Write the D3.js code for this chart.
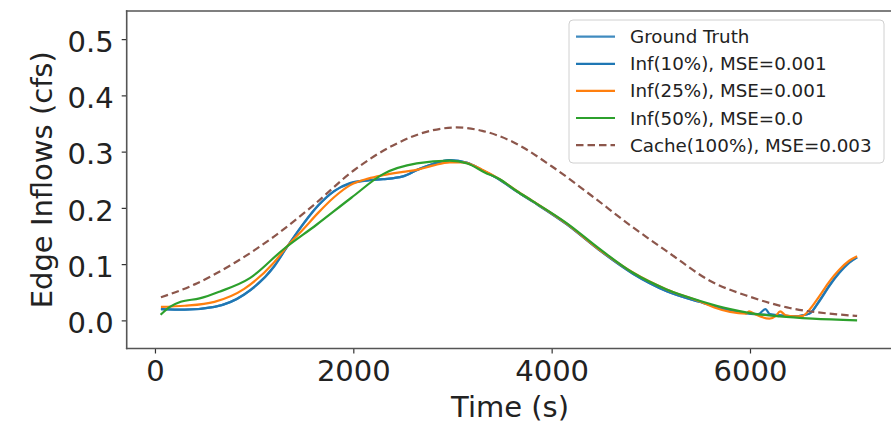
<!DOCTYPE html>
<html>
<head>
<meta charset="utf-8">
<script src="https://cdn.jsdelivr.net/npm/d3@7"></script>
<style>
  body { margin: 0; background: #fff; overflow: hidden; }
  text { font-family: "DejaVu Sans", sans-serif; fill: #222; }
</style>
</head>
<body>
<script>
// values: [time (s), inflow (cfs)]
var groundTruth = [[60,.020],[300,.019],[600,.024],[900,.046],[1200,.095],[1330,.130],[1500,.172],[1650,.205],[1800,.229],[1965,.243],[2150,.249],[2300,.251],[2500,.256],[2650,.268],[2800,.278],[2972,.285],[3150,.280],[3300,.267],[3476,.250],[3650,.229],[3810,.211],[4150,.171],[4480,.125],[4820,.083],[5160,.052],[5490,.033],[5700,.022],[5960,.013],[6080,.011],[6200,.010],[6300,.009],[6450,.007],[6530,.009],[6600,.012],[6700,.034],[6800,.061],[6900,.084],[7000,.102],[7080,.112]];

var inf10 = [[60,.020],[300,.019],[600,.024],[900,.046],[1200,.096],[1330,.130],[1500,.173],[1650,.205],[1800,.229],[1965,.244],[2150,.249],[2300,.251],[2500,.256],[2650,.268],[2800,.278],[2972,.285],[3150,.280],[3300,.267],[3476,.250],[3650,.229],[3810,.211],[4150,.171],[4480,.125],[4820,.083],[5160,.052],[5490,.033],[5700,.022],[5960,.013],[6080,.011],[6156,.020],[6200,.011],[6300,.009],[6450,.007],[6530,.009],[6600,.012],[6700,.035],[6800,.062],[6900,.085],[7000,.103],[7080,.112]];

var inf25 = [[60,.024],[300,.026],[600,.033],[900,.056],[1200,.103],[1330,.131],[1500,.163],[1650,.192],[1800,.218],[1965,.240],[2150,.252],[2300,.258],[2500,.264],[2650,.268],[2800,.275],[2972,.281],[3100,.281],[3300,.268],[3476,.251],[3650,.230],[3810,.212],[4150,.172],[4480,.126],[4820,.085],[5160,.055],[5490,.034],[5640,.023],[5800,.015],[5962,.012],[5990,.016],[6050,.011],[6196,.003],[6260,.008],[6304,.016],[6360,.009],[6450,.007],[6530,.008],[6600,.019],[6700,.043],[6800,.069],[6900,.090],[7000,.106],[7080,.114]];

var inf50 = [[57,.010],[150,.024],[260,.033],[450,.039],[650,.051],[957,.075],[1293,.126],[1629,.170],[1980,.218],[2300,.260],[2640,.279],[2972,.284],[3150,.279],[3325,.263],[3476,.251],[3647,.230],[3809,.212],[4151,.173],[4484,.127],[4816,.085],[5159,.055],[5490,.035],[5800,.020],[6000,.013],[6300,.007],[6630,.003],[7080,.000]];

var cache100 = [[60,.041],[400,.064],[800,.102],[1200,.149],[1600,.205],[2000,.266],[2400,.311],[2800,.338],[3040,.343],[3300,.337],[3600,.318],[4000,.274],[4400,.222],[4800,.168],[5200,.118],[5600,.070],[6000,.042],[6400,.022],[6800,.012],[7080,.008]];

var labels = ["Ground Truth", "Inf(10%), MSE=0.001", "Inf(25%), MSE=0.001", "Inf(50%), MSE=0.0", "Cache(100%), MSE=0.003"];
var xTicks = [0, 2000, 4000, 6000];
var yTicks = [0.0, 0.1, 0.2, 0.3, 0.4, 0.5];

var width = 891,
    height = 423;

var plotLeft = 126.7, plotRight = 893.4, plotTop = 11, plotBottom = 348.5;

var svg = d3.select("body").append("svg")
    .attr("width", width)
    .attr("height", height)
    .style("display", "block");

var x = d3.scaleLinear()
    .domain([-285, 7446])
    .range([plotLeft, plotRight]);

var y = d3.scaleLinear()
    .domain([-0.05, 0.55])
    .range([plotBottom, plotTop]);

var line = d3.line()
    .x(function(d) { return x(d[0]); })
    .y(function(d) { return y(d[1]); })
    .curve(d3.curveMonotoneX);

var series = [
    {data: groundTruth, color: "#1f77b4", opacity: 0.85, dash: null},
    {data: inf10, color: "#1f77b4", opacity: 1, dash: null},
    {data: inf25, color: "#ff7f0e", opacity: 1, dash: null},
    {data: inf50, color: "#2ca02c", opacity: 1, dash: null},
    {data: cache100, color: "#8c564b", opacity: 1, dash: "7.5,4"}
];

svg.selectAll(".series")
    .data(series)
    .enter().append("path")
    .attr("class", "series")
    .attr("d", function(d) { return line(d.data); })
    .attr("fill", "none")
    .attr("stroke", function(d) { return d.color; })
    .attr("stroke-opacity", function(d) { return d.opacity; })
    .attr("stroke-width", 2.2)
    .attr("stroke-dasharray", function(d) { return d.dash; });

// axes
var xAxis = d3.axisBottom(x)
    .tickValues(xTicks)
    .tickSize(5)
    .tickPadding(7)
    .tickFormat(d3.format("d"));

var yAxis = d3.axisLeft(y)
    .tickValues(yTicks)
    .tickSize(5)
    .tickPadding(8)
    .tickFormat(d3.format(".1f"));

var gx = svg.append("g")
    .attr("transform", "translate(0," + plotBottom + ")")
    .call(xAxis);
var gy = svg.append("g")
    .attr("transform", "translate(" + plotLeft + ",0)")
    .call(yAxis);

[gx, gy].forEach(function(g) {
    g.select(".domain").remove();
    g.selectAll(".tick line").attr("stroke", "#333").attr("stroke-width", 1.2);
    g.selectAll(".tick text")
        .style("font-size", "29px")
        .attr("fill", "#222");
});
gy.selectAll(".tick text").attr("dy", "0.42em");

// spines: left, top, bottom (the right one falls outside the picture)
var spines = [
    [plotLeft, plotTop, plotLeft, plotBottom],
    [plotLeft, plotTop, width, plotTop],
    [plotLeft, plotBottom, width, plotBottom]
];
svg.selectAll(".spine")
    .data(spines)
    .enter().append("line")
    .attr("class", "spine")
    .attr("x1", function(d) { return d[0]; })
    .attr("y1", function(d) { return d[1]; })
    .attr("x2", function(d) { return d[2]; })
    .attr("y2", function(d) { return d[3]; })
    .attr("stroke", "#555")
    .attr("stroke-width", 1.6)
    .attr("stroke-linecap", "square");

svg.append("text")
    .attr("x", (plotLeft + plotRight) / 2)
    .attr("y", 417)
    .attr("text-anchor", "middle")
    .style("font-size", "29px")
    .text("Time (s)");

svg.append("text")
    .attr("transform", "translate(52," + (plotTop + plotBottom) / 2 + ") rotate(-90)")
    .attr("text-anchor", "middle")
    .style("font-size", "29px")
    .text("Edge Inflows (cfs)");

// legend
var legend = svg.append("g");

legend.append("rect")
    .attr("x", 569)
    .attr("y", 20)
    .attr("width", 315)
    .attr("height", 143)
    .attr("rx", 4)
    .attr("fill", "#fff")
    .attr("fill-opacity", 0.8)
    .attr("stroke", "#d0d0d0")
    .attr("stroke-width", 1);

var rows = legend.selectAll(".row")
    .data(series)
    .enter().append("g")
    .attr("transform", function(d, i) { return "translate(0," + (36.7 + i * 27.1) + ")"; });

rows.append("line")
    .attr("x1", 576)
    .attr("x2", 615)
    .attr("stroke", function(d) { return d.color; })
    .attr("stroke-opacity", function(d) { return d.opacity; })
    .attr("stroke-width", 2.2)
    .attr("stroke-dasharray", function(d) { return d.dash; });

rows.append("text")
    .attr("x", 630)
    .attr("dy", "0.36em")
    .style("font-size", "18.3px")
    .text(function(d, i) { return labels[i]; });
</script>
</body>
</html>
